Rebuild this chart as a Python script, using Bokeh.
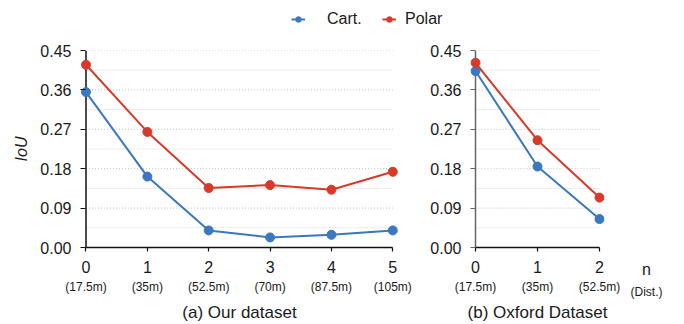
from bokeh.plotting import figure
from bokeh.layouts import column, row
from bokeh.models import (Range1d, FixedTicker, LinearAxis, Legend,
                          LegendItem, PrintfTickFormatter)
from bokeh.embed import file_html
from bokeh.resources import INLINE

# ---- data ----
y_ticks = [0.0, 0.09, 0.18, 0.27, 0.36, 0.45]
y_minor = [0.045, 0.135, 0.225, 0.315, 0.405]

our_n = [0, 1, 2, 3, 4, 5]
our_dist = ["(17.5m)", "(35m)", "(52.5m)", "(70m)", "(87.5m)", "(105m)"]
our_cart = [0.355, 0.162, 0.039, 0.023, 0.029, 0.039]
our_polar = [0.4175, 0.264, 0.136, 0.1425, 0.132, 0.173]

ox_n = [0, 1, 2]
ox_dist = ["(17.5m)", "(35m)", "(52.5m)"]
ox_cart = [0.403, 0.185, 0.065]
ox_polar = [0.422, 0.245, 0.114]

series_names = ["Cart.", "Polar"]
x_caption = ["n", "(Dist.)"]

BLUE = "#3a78bf"
RED = "#d83a2a"
FONT = "Liberation Sans"
TEXT = "#1a1a1a"
PANEL_H = 282


def bare(width, height, xr, yr, **kw):
    p = figure(width=width, height=height, x_range=xr, y_range=yr,
               output_backend="svg", toolbar_location=None,
               outline_line_color=None, x_axis_location=None, y_axis_location=None,
               background_fill_color="white", border_fill_color="white", **kw)
    p.grid.visible = False
    return p


def bottom_axes(p, ticks, top_labels, sub_labels, title, x_color, bounds=None, draw_line=True):
    xax = LinearAxis(ticker=FixedTicker(ticks=ticks),
                     axis_line_color=x_color if draw_line else None, axis_line_width=1.5,
                     major_tick_line_color=x_color if draw_line else None,
                     major_tick_line_width=1.2,
                     major_tick_out=4, major_tick_in=0, minor_tick_line_color=None,
                     major_label_standoff=9, major_label_text_font=FONT,
                     major_label_text_font_size="16px", major_label_text_color=TEXT,
                     major_label_overrides={k: s for k, s in zip(ticks, top_labels)})
    if bounds is not None:
        xax.bounds = bounds
    p.add_layout(xax, "below")
    sub = LinearAxis(ticker=FixedTicker(ticks=ticks), axis_line_color=None,
                     major_tick_line_color=None, major_tick_out=0, major_tick_in=0,
                     minor_tick_line_color=None, major_label_standoff=4,
                     major_label_text_font=FONT, major_label_text_font_size="12px",
                     major_label_text_color=TEXT,
                     major_label_overrides={k: d for k, d in zip(ticks, sub_labels)})
    if title:
        sub.axis_label = title
        sub.axis_label_text_font = FONT
        sub.axis_label_text_font_size = "17px"
        sub.axis_label_text_font_style = "normal"
        sub.axis_label_text_color = TEXT
        sub.axis_label_standoff = 6
    p.add_layout(sub, "below")


def panel(width, x0, x1, n, dist, cart, polar, title, y_color, x_color, mbl, mbr, ylabel=None):
    p = bare(width, PANEL_H, Range1d(x0, x1), Range1d(y_ticks[0], y_ticks[-1]),
             min_border_left=mbl, min_border_right=mbr, min_border_top=8,
             min_border_bottom=76)

    yax = LinearAxis(ticker=FixedTicker(ticks=y_ticks), formatter=PrintfTickFormatter(format="%.2f"),
                     axis_line_color=None,
                     major_tick_line_color=y_color, major_tick_line_width=1.2,
                     major_tick_out=0, major_tick_in=5, minor_tick_line_color=None,
                     major_label_standoff=9, major_label_text_font=FONT,
                     major_label_text_font_size="16px", major_label_text_color=TEXT)
    if ylabel:
        yax.axis_label = ylabel
        yax.axis_label_text_font = FONT
        yax.axis_label_text_font_size = "16px"
        yax.axis_label_text_font_style = "italic"
        yax.axis_label_text_color = TEXT
        yax.axis_label_standoff = 7
    p.add_layout(yax, "left")

    bottom_axes(p, n, [str(k) for k in n], dist, title, x_color, bounds=(n[0], n[-1]))

    # grid lines between first and last category
    p.segment(x0=[n[0]] * len(y_minor), x1=[n[-1]] * len(y_minor), y0=y_minor, y1=y_minor,
              line_color="#ececec", line_width=1, level="underlay")
    p.segment(x0=[n[0]] * (len(y_ticks) - 1), x1=[n[-1]] * (len(y_ticks) - 1),
              y0=y_ticks[1:], y1=y_ticks[1:], line_color="#c2c2c2", line_width=1,
              line_dash="1 2", level="underlay")
    # y axis line through the first category
    p.segment(x0=[n[0]], x1=[n[0]], y0=[y_ticks[0]], y1=[y_ticks[-1]],
              line_color=y_color, line_width=1.5)

    p.line(n, cart, line_color=BLUE, line_width=2)
    p.scatter(n, cart, size=9, fill_color=BLUE, line_color=BLUE)
    p.line(n, polar, line_color=RED, line_width=2)
    p.scatter(n, polar, size=9, fill_color=RED, line_color=RED)
    return p


left = panel(420, -0.0896, 5.093, our_n, our_dist, our_cart, our_polar,
             "(a) Our dataset", "#111111", "#111111", 80, 22, ylabel="IoU")
right = panel(200, -0.0806, 2.0806, ox_n, ox_dist, ox_cart, ox_polar,
              "(b) Oxford Dataset", "#666666", "#111111", 50, 16)

# small strip at the right holding the x-axis caption (n / Dist.)
cap = bare(64, PANEL_H, Range1d(-26, 38), Range1d(y_ticks[0], y_ticks[-1]),
           min_border_left=0, min_border_right=0, min_border_top=8, min_border_bottom=76)
bottom_axes(cap, [0], [x_caption[0]], [x_caption[1]], None, None, draw_line=False)

# legend strip (one legend per series so each can be placed)
lg = bare(684, 42, Range1d(0, 1), Range1d(10, 11), min_border=0)
for name, col, ys, xloc, stand in zip(series_names, [BLUE, RED], [our_cart, our_polar],
                                      [291, 382], [22, 9]):
    rl = lg.line(x=our_n, y=ys, line_color=col, line_width=2)
    rs = lg.scatter(x=our_n, y=ys, size=9, fill_color=col, line_color=col)
    lg.add_layout(Legend(items=[LegendItem(label=name, renderers=[rl, rs])],
                         location=(xloc, 14), orientation="horizontal",
                         glyph_width=14, glyph_height=16, label_standoff=stand,
                         padding=0, margin=0, border_line_color=None,
                         background_fill_alpha=0, label_text_font=FONT,
                         label_text_font_size="16px", label_text_color=TEXT), "center")

layout = column(lg, row(left, right, cap))
open("out.html", "w").write(file_html(layout, INLINE))
